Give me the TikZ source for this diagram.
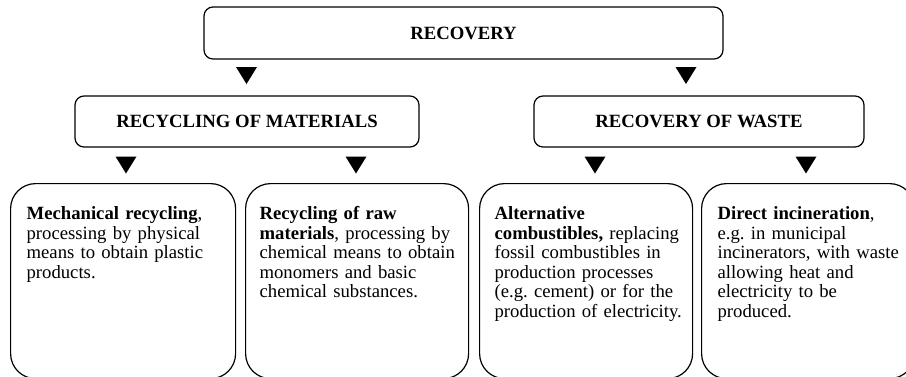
\documentclass[tikz,border=0pt]{standalone}
\usepackage{fontspec}
\setmainfont{Liberation Serif}
\frenchspacing
\begin{document}
\begin{tikzpicture}[x=1pt,y=-1pt,
  headbox/.style={draw, line width=1.2pt, rounded corners=9pt, inner sep=0pt,
    font=\fontsize{18.7}{19.3}\selectfont\bfseries},
  bigbox/.style={draw, line width=1.2pt, rounded corners=25pt, anchor=north west,
    inner ysep=0pt, align=left, text height=36pt, text depth=159pt,
    font=\fontsize{18.7}{19.5}\selectfont\frenchspacing},
  downtri/.pic={\fill (-10.5,-8.5) -- (10.5,-8.5) -- (0,8.5) -- cycle;}
]
\useasboundingbox (0,0) rectangle (906,376);
\clip (0,0) rectangle (906,376);

\node[headbox, minimum width=519pt, minimum height=52pt] (rec) at (463.5,33) {RECOVERY};
\node[headbox, minimum width=344pt, minimum height=51pt] (mat) at (247,121.5) {RECYCLING OF MATERIALS};
\node[headbox, minimum width=330pt, minimum height=51pt] (wst) at (699,121.5) {RECOVERY OF WASTE};

\node[bigbox, inner xsep=16pt, text width=193pt] (b1) at (10,183)
  {\mbox{\textbf{Mechanical recycling},}\\ \mbox{processing by physical}\\ \mbox{means to obtain plastic}\\ \mbox{products.}};
\node[bigbox, inner xsep=14pt, text width=195pt] (b2) at (245,183)
  {\mbox{\textbf{Recycling of raw}}\\ \mbox{\textbf{materials}, processing by}\\ \mbox{chemical means to obtain}\\ \mbox{monomers and basic}\\ \mbox{chemical substances.}};
\node[bigbox, inner xsep=15pt, text width=183pt] (b3) at (479,183)
  {\mbox{\textbf{Alternative}}\\ \mbox{\textbf{combustibles,} replacing}\\ \mbox{fossil combustibles in}\\ \mbox{production processes}\\ \mbox{(e.g. cement) or for the}\\ \mbox{production of electricity.}};
\node[bigbox, inner xsep=16pt, text width=181pt] (b4) at (701,183)
  {\mbox{\textbf{Direct incineration},}\\ \mbox{e.g. in municipal}\\ \mbox{incinerators, with waste}\\ \mbox{allowing heat and}\\ \mbox{electricity to be}\\ \mbox{produced.}};

\pic at (246.5,75.5) {downtri};
\pic at (686,75.5) {downtri};
\pic at (126,165) {downtri};
\pic at (356,165) {downtri};
\pic at (595,165) {downtri};
\pic at (806,165) {downtri};
\end{tikzpicture}
\end{document}
